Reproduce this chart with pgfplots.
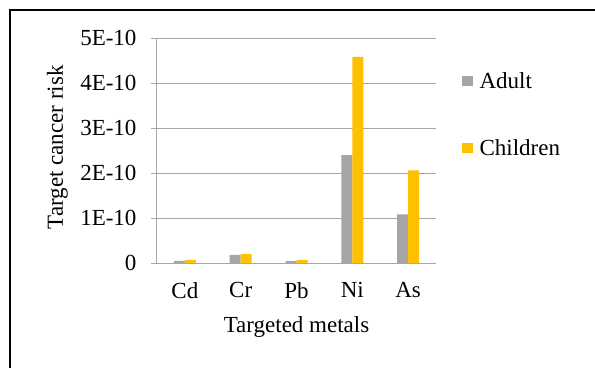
\documentclass[border=0pt]{standalone}
\usepackage{fontspec}
\setmainfont{Liberation Serif}
\newfontfamily\tnr{Liberation Serif}
\usepackage{pgfplots}
\pgfplotsset{compat=1.18}
\definecolor{gridgray}{HTML}{A6A6A6}
\definecolor{adultgray}{HTML}{A5A5A5}
\definecolor{childyellow}{HTML}{FFC000}
\newcommand{\chartfont}{\tnr\fontsize{23}{27}\selectfont}
\begin{document}
\begin{tikzpicture}[x=1pt,y=1pt]
\useasboundingbox (0,0) rectangle (595,368);
\draw[line width=2pt,black] (10,0) -- (10,358) -- (595,358);
\begin{axis}[
  at={(157pt,105pt)}, anchor=south west,
  scale only axis, width=279pt, height=225pt,
  font=\chartfont,
  ybar=0pt, bar width=11pt,
  xmin=-0.5, xmax=4.5, ymin=0, ymax=5e-10,
  xtick={0,1,2,3,4},
  xticklabels={Cd,Cr,Pb,Ni,As},
  ytick={0,1e-10,2e-10,3e-10,4e-10,5e-10},
  yticklabels={0,1E-10,2E-10,3E-10,4E-10,5E-10},
  scaled y ticks=false,
  yticklabel style={xshift=-11pt, font=\chartfont},
  xticklabel style={yshift=-10pt, font=\chartfont},
  axis lines*=left,
  axis line style={draw=gridgray, line width=1pt},
  ymajorgrids, grid style={draw=gridgray, line width=1pt},
  tick align=outside, ytick pos=left,
  major tick length=6pt,
  y tick style={draw=gridgray, line width=1pt},
  x tick style={draw=none},
  xlabel={Targeted metals},
  xlabel style={at={(axis description cs:0.5,-0.311)}, anchor=base, font=\chartfont},
  ylabel={Target cancer risk},
  ylabel style={at={(axis description cs:-0.337,0.514)}, anchor=base, font=\chartfont},
  legend cell align=left,
  legend style={draw=none, fill=none, at={(1.08,0.867)}, anchor=north west,
    row sep=46pt, font=\chartfont,
    nodes={inner xsep=7pt}},
  legend image code/.code={\fill[#1,draw=none] (0pt,-5pt) rectangle (11pt,5pt);},
]
\addplot[fill=adultgray, draw=none] coordinates {(0,5e-12) (1,1.8e-11) (2,4e-12) (3,2.4e-10) (4,1.08e-10)};
\addplot[fill=childyellow, draw=none] coordinates {(0,6.5e-12) (1,2.0e-11) (2,6.5e-12) (3,4.58e-10) (4,2.06e-10)};
\legend{Adult,Children}
\end{axis}
\end{tikzpicture}
\end{document}
